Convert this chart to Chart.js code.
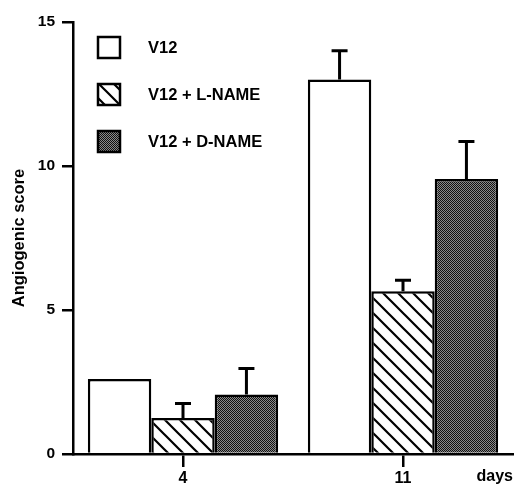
<!DOCTYPE html>
<html>
<head>
<meta charset="utf-8">
<script src="https://cdn.jsdelivr.net/npm/chart.js@4"></script>
<style>
  html, body { margin: 0; padding: 0; background: #fff; }
  #wrap { width: 514px; height: 485px; }
</style>
</head>
<body>
<div id="wrap"><canvas id="angioChart"></canvas></div>
<script>
const days = ['4', '11'];
const seriesNames = ['V12', 'V12 + L-NAME', 'V12 + D-NAME'];
const v12 = [2.6, 13.0];
const v12Err = [0, 1.0];
const lName = [1.25, 5.65];
const lNameErr = [0.5, 0.38];
const dName = [2.07, 9.55];
const dNameErr = [0.9, 1.3];
const yTicks = [0, 5, 10, 15];

const FONT = '"Liberation Sans", Arial, sans-serif';

// fill patterns
function hatch() {
    const c = document.createElement('canvas');
    c.width = 15; c.height = 15;
    const g = c.getContext('2d');
    g.fillStyle = '#fff';
    g.fillRect(0, 0, 15, 15);
    g.strokeStyle = '#000';
    g.lineWidth = 2.2;
    g.beginPath();
    g.moveTo(-2, -2); g.lineTo(17, 17);
    g.moveTo(13, -2); g.lineTo(17, 2);
    g.moveTo(-2, 13); g.lineTo(2, 17);
    g.stroke();
    return g.createPattern(c, 'repeat');
}
function stipple() {
    const c = document.createElement('canvas');
    c.width = 2; c.height = 2;
    const g = c.getContext('2d');
    g.fillStyle = '#111';
    g.fillRect(0, 0, 2, 2);
    g.fillStyle = '#8a8a8a';
    g.fillRect(1, 0, 1, 1);
    g.fillRect(0, 1, 1, 1);
    return g.createPattern(c, 'repeat');
}

const errors = [v12Err, lNameErr, dNameErr];

const errorBars = {
    id: 'errorBars',
    afterDatasetsDraw(chart) {
        const ctx = chart.ctx;
        const y = chart.scales.y;
        ctx.save();
        ctx.strokeStyle = '#000';
        ctx.lineWidth = 3;
        chart.data.datasets.forEach((ds, i) => {
            chart.getDatasetMeta(i).data.forEach((bar, j) => {
                const e = errors[i][j];
                if (!e) return;
                const top = y.getPixelForValue(ds.data[j] + e);
                ctx.beginPath();
                ctx.moveTo(bar.x, bar.y);
                ctx.lineTo(bar.x, top);
                ctx.moveTo(bar.x - 8, top);
                ctx.lineTo(bar.x + 8, top);
                ctx.stroke();
            });
        });
        ctx.restore();
    }
};

const innerLegend = {
    id: 'innerLegend',
    afterDraw(chart) {
        const ctx = chart.ctx;
        const a = chart.chartArea;
        ctx.save();
        ctx.font = 'bold 16.5px ' + FONT;
        ctx.textBaseline = 'middle';
        chart.data.datasets.forEach((ds, i) => {
            const bx = a.left + 25, by = a.top + 15 + i * 47;
            ctx.fillStyle = ds.backgroundColor;
            ctx.fillRect(bx, by, 22, 21);
            ctx.strokeStyle = '#000';
            ctx.lineWidth = 2.5;
            ctx.strokeRect(bx, by, 22, 21);
            ctx.fillStyle = '#000';
            ctx.fillText(ds.label, bx + 50, by + 11);
        });
        ctx.restore();
    }
};

const fills = ['#fff', hatch(), stipple()];
const values = [v12, lName, dName];

new Chart(document.getElementById('angioChart'), {
    type: 'bar',
    data: {
        labels: days,
        datasets: seriesNames.map((name, i) => ({
            label: name,
            data: values[i],
            backgroundColor: fills[i],
            borderColor: '#000',
            borderWidth: 2.5,
            categoryPercentage: 0.865,
            barPercentage: 1
        }))
    },
    options: {
        responsive: true,
        maintainAspectRatio: false,
        animation: false,
        layout: { padding: { top: 22, right: 1 } },
        plugins: {
            legend: { display: false },
            tooltip: { enabled: false }
        },
        scales: {
            x: {
                grid: { display: true, drawOnChartArea: false, offset: false, color: '#000', lineWidth: 2.5, tickLength: 13 },
                border: { display: true, color: '#000', width: 2.5 },
                ticks: { color: '#000', font: { family: FONT, size: 16, weight: 'bold' }, padding: 2 },
                title: { display: true, text: 'days', align: 'end', color: '#000', font: { family: FONT, size: 16, weight: 'bold', lineHeight: 1 }, padding: { top: 0, bottom: 0 } },
                afterFit(scale) { scale.height = 31; }
            },
            y: {
                min: 0,
                max: 15,
                afterBuildTicks(scale) { scale.ticks = yTicks.map(v => ({ value: v })); },
                grid: { display: true, drawOnChartArea: false, color: '#000', lineWidth: 2.5, tickLength: 11 },
                border: { display: true, color: '#000', width: 2.5 },
                ticks: { color: '#000', font: { family: FONT, size: 15.5, weight: 'bold' }, padding: 7 },
                title: { display: true, text: 'Angiogenic score', color: '#000', font: { family: FONT, size: 16.5, weight: 'bold', lineHeight: 1 }, padding: { top: 11, bottom: 0 } },
                afterFit(scale) { scale.width = 73; }
            }
        }
    },
    plugins: [errorBars, innerLegend]
});
</script>
</body>
</html>
